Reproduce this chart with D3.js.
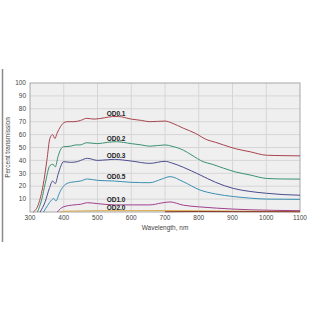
<!DOCTYPE html>
<html>
<head>
<meta charset="utf-8">
<script src="https://cdn.jsdelivr.net/npm/d3@7"></script>
<style>
  body { margin: 0; background: #fff; }
  svg { display: block; font-family: "Liberation Sans", Arial, sans-serif; }
</style>
</head>
<body>
<div id="chart"></div>
<script>
// wavelength ticks / transmission ticks
var xTicks = [300, 400, 500, 600, 700, 800, 900, 1000, 1100];
var yTicks = [10, 20, 30, 40, 50, 60, 70, 80, 90, 100];

// curves: [wavelength nm, percent]
var od01 = [[310,0],[325,6],[339,21],[350,40],[359,57],[367,60],[374,57],[380,61],[390,66],[399,69],[410,70],[430,70],[450,71],[468,72.6],[490,72],[520,73],[545,74],[562,74],[600,72],[630,71],[655,70],[700,70.5],[720,69],[754,65],[790,61],[824,56],[850,54],[873,52],[910,49],[952,46.7],[1001,44],[1050,43.7],[1100,43.5]];
var od02 = [[322,0],[335,10],[345,22],[359,36],[368,37],[375,35],[383,43],[392,49],[399,50.6],[420,51],[435,52],[448,52],[468,53.7],[500,53],[530,54],[556,54.5],[600,53],[630,52],[655,51],[700,52],[720,51],[754,48],[780,44],[813,39],[840,37],[873,34],[910,31],[952,28.7],[1001,26],[1050,25.6],[1100,25.5]];
var od03 = [[330,0],[345,8],[357,18],[367,24],[375,22],[383,29],[392,36],[399,39],[420,38.5],[440,39],[450,40],[470,41.6],[500,40],[530,40.5],[550,40.8],[600,39.5],[655,37.7],[700,39.3],[720,38],[754,34.7],[804,28.7],[850,23],[902,18.3],[950,16],[1001,14.5],[1050,13.5],[1100,13]];
var od05 = [[340,0],[352,5],[364,9.3],[370,10.5],[377,8.5],[386,14],[399,20],[420,23],[450,24],[470,25.6],[500,24.5],[550,24],[600,23],[655,22.7],[690,25.5],[715,27.4],[754,23.5],[804,17],[850,14],[902,12],[950,10.8],[1001,10],[1050,9.9],[1100,9.8]];
var od10 = [[381,0],[390,2.5],[399,4],[430,5.5],[450,6],[470,7.2],[500,6.5],[550,5.5],[600,5.5],[655,5.5],[690,7],[715,7.8],[754,5.3],[800,4],[853,3],[900,2.3],[952,1.7],[1020,1.3],[1100,1]];
var od20 = [[390,0],[400,0.5],[450,0.8],[500,1],[600,1],[700,1.1],[800,0.9],[900,0.7],[1000,0.5],[1100,0.3]];
var od30 = [[700,0.2],[800,0.4],[900,0.3],[1000,0.3],[1100,0.2]];

var seriesNames = ["OD0.1", "OD0.2", "OD0.3", "OD0.5", "OD1.0", "OD2.0", ""];
var seriesData = [od01, od02, od03, od05, od10, od20, od30];
var seriesColors = ["#a8454f", "#3a9270", "#4a4c8e", "#3a90b0", "#a0408e", "#d8a845", "#8a3a2a"];
// label y positions (percent) where names sit, at 555 nm
var labelY = [76.5, 57, 44, 27.5, 9.5, 3.3];

var width = 310, height = 310;
var svg = d3.select("#chart").append("svg")
    .attr("width", width)
    .attr("height", height);

// left frame line
svg.append("line")
    .attr("x1", 2.5).attr("x2", 2.5)
    .attr("y1", 69).attr("y2", 242)
    .style("stroke", "#8a8a8a")
    .style("stroke-width", 1.5);

var x = d3.scaleLinear().domain([300, 1100]).range([30, 300]);
var y = d3.scaleLinear().domain([0, 100]).range([212, 83]);

// plot background
svg.append("rect")
    .attr("x", x(300)).attr("y", y(100))
    .attr("width", x(1100) - x(300))
    .attr("height", y(0) - y(100))
    .style("fill", "#efefef");

// grid
svg.append("g").selectAll("line.v")
    .data(xTicks.slice(1, -1))
    .enter().append("line")
    .attr("x1", d => x(d)).attr("x2", d => x(d))
    .attr("y1", y(100)).attr("y2", y(0))
    .style("stroke", "#d6d6d6").style("stroke-width", 1);

svg.append("g").selectAll("line.h")
    .data(yTicks.slice(0, -1))
    .enter().append("line")
    .attr("x1", x(300)).attr("x2", x(1100))
    .attr("y1", d => y(d)).attr("y2", d => y(d))
    .style("stroke", "#d6d6d6").style("stroke-width", 1);

svg.append("rect")
    .attr("x", x(300)).attr("y", y(100))
    .attr("width", x(1100) - x(300))
    .attr("height", y(0) - y(100))
    .style("fill", "none")
    .style("stroke", "#a8a8a8")
    .style("stroke-width", 1);

var line = d3.line()
    .x(d => x(d[0]))
    .y(d => y(d[1]))
    .curve(d3.curveMonotoneX);

svg.append("g").selectAll("path")
    .data(seriesData)
    .enter().append("path")
    .attr("d", line)
    .style("fill", "none")
    .style("stroke", (d, i) => seriesColors[i])
    .style("stroke-width", 1);

// series names
svg.append("g").selectAll("text")
    .data(labelY)
    .enter().append("text")
    .attr("x", x(555))
    .attr("y", d => y(d))
    .attr("text-anchor", "middle")
    .attr("dy", "0.35em")
    .style("font-size", "6.5px")
    .style("font-weight", "bold")
    .style("fill", "#222")
    .text((d, i) => seriesNames[i]);

// axes tick labels
svg.append("g").selectAll("text")
    .data(xTicks)
    .enter().append("text")
    .attr("x", d => x(d))
    .attr("y", 220)
    .attr("text-anchor", "middle")
    .style("font-size", "6.5px")
    .style("fill", "#444")
    .text(d => d);

svg.append("g").selectAll("text")
    .data(yTicks)
    .enter().append("text")
    .attr("x", 26)
    .attr("y", d => y(d))
    .attr("dy", "0.35em")
    .attr("text-anchor", "end")
    .style("font-size", "6.5px")
    .style("fill", "#444")
    .text(d => d);

svg.append("text")
    .attr("x", 165).attr("y", 230)
    .attr("text-anchor", "middle")
    .style("font-size", "6.5px")
    .style("fill", "#444")
    .text("Wavelength, nm");

svg.append("text")
    .attr("transform", "translate(10," + y(50) + ") rotate(-90)")
    .attr("text-anchor", "middle")
    .style("font-size", "6.5px")
    .style("fill", "#444")
    .text("Percent transmission");
</script>
</body>
</html>
